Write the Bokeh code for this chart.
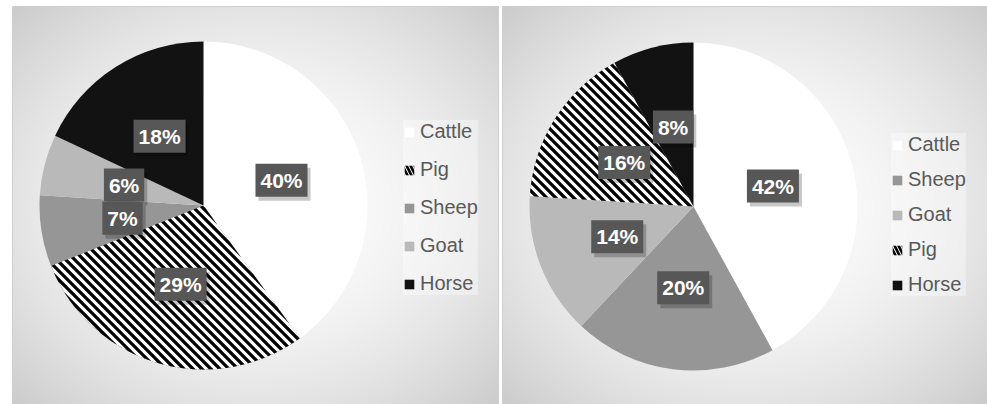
import numpy as np
from bokeh.plotting import figure
from bokeh.models import ColumnDataSource, Range1d, Legend, LegendItem
from bokeh.layouts import row
from bokeh.core.properties import value
from bokeh.embed import file_html
from bokeh.resources import INLINE

# ---- data ----
left_categories = ["Cattle", "Pig", "Sheep", "Goat", "Horse"]
left_shares = [40, 29, 7, 6, 18]
right_categories = ["Cattle", "Sheep", "Goat", "Pig", "Horse"]
right_shares = [42, 20, 14, 16, 8]

# ---- styles ----
FILL = {"Cattle": "#ffffff", "Pig": "#ffffff", "Sheep": "#969696",
        "Goat": "#b9b9b9", "Horse": "#121212"}
STRIPED = "Pig"
FONT = "Liberation Sans"
H = 404
R = 164
STRIPE_PERIOD = 9.0      # horizontal distance between stripes (px)
STRIPE_BAND = 4.6        # stripe thickness measured horizontally (px)


def gradient(w, h, cx, cy):
    yy, xx = np.mgrid[0:h, 0:w]
    dx = (xx + 0.5 - cx) / (w / 2.0)
    dy = (yy + 0.5 - cy) / (h / 2.0)
    d = np.sqrt(dx ** 2 + dy ** 2) / np.sqrt(2.0)
    v = np.clip(255 - 52 * d ** 1.8, 0, 255).astype(np.uint8)
    img = np.empty((h, w), dtype=np.uint32)
    view = img.view(dtype=np.uint8).reshape((h, w, 4))
    view[:, :, 0] = v
    view[:, :, 1] = v
    view[:, :, 2] = v
    view[:, :, 3] = 255
    return img


def clip_halfplane(poly, a, b):
    """Keep the part of polygon where a . p >= b (Sutherland-Hodgman)."""
    out = []
    n = len(poly)
    for i in range(n):
        P = poly[i]
        Q = poly[(i + 1) % n]
        fp = a[0] * P[0] + a[1] * P[1] - b
        fq = a[0] * Q[0] + a[1] * Q[1] - b
        if fp >= 0:
            out.append(P)
        if (fp >= 0) != (fq >= 0):
            t = fp / (fp - fq)
            out.append((P[0] + t * (Q[0] - P[0]), P[1] + t * (Q[1] - P[1])))
    return out


def stripe_patches(cx, cy, a_s, a_e):
    """Diagonal stripe bands clipped to the clockwise sector a_s -> a_e."""
    ang = np.linspace(a_s, a_e, 240)
    sector = [(cx, cy)] + [(cx + R * np.cos(t), cy + R * np.sin(t)) for t in ang]
    xs, ys = [], []
    base = cx + cy
    for c in np.arange(base - 1.5 * R, base + 1.5 * R, STRIPE_PERIOD):
        poly = clip_halfplane(sector, (1.0, 1.0), c - STRIPE_BAND / 2.0)
        if len(poly) < 3:
            continue
        poly = clip_halfplane(poly, (-1.0, -1.0), -(c + STRIPE_BAND / 2.0))
        if len(poly) < 3:
            continue
        xs.append([q[0] for q in poly])
        ys.append([q[1] for q in poly])
    return xs, ys


def panel(categories, shares, width, px0, px1, ptop, cx, cy, leg_x, leg_y, spacing):
    p = figure(width=width, height=H, x_range=Range1d(0, width), y_range=Range1d(0, H),
               output_backend="svg", toolbar_location=None, min_border=0,
               x_axis_location=None, y_axis_location=None,
               background_fill_color="white", border_fill_color="white",
               outline_line_color=None)
    p.grid.visible = False

    pw = px1 - px0
    ph = ptop + 2
    p.image_rgba(image=[gradient(pw, ph, (px0 + px1) / 2.0 - px0, ph / 2.0)],
                 x=px0, y=-2, dw=pw, dh=ph)
    p.quad(left=[px0], right=[px1], bottom=[-3], top=[ptop],
           fill_color=None, line_color="#cfcfcf", line_width=1)

    total = float(sum(shares))
    frac = np.array(shares) / total
    cum = np.concatenate([[0.0], np.cumsum(frac)])
    start = np.pi / 2 - 2 * np.pi * cum[:-1]
    end = np.pi / 2 - 2 * np.pi * cum[1:]
    mid = (start + end) / 2.0

    src = ColumnDataSource(dict(
        cat=categories,
        start=start, end=end,
        color=[FILL[c] for c in categories],
        lx=cx + 0.5 * R * np.cos(mid),
        ly=cy + 0.5 * R * np.sin(mid),
        lab=["%d%%" % s for s in shares],
    ))

    # striped slice (its hatch is what the legend swatch shows)
    k = categories.index(STRIPED)
    pig_src = ColumnDataSource(dict(start=[start[k]], end=[end[k]]))
    pr = p.wedge(x=cx, y=cy, radius=R, start_angle="start", end_angle="end",
                 direction="clock", fill_color="white", line_color=None,
                 hatch_pattern="left_diagonal_line", hatch_color="black",
                 hatch_scale=8, hatch_weight=2.6, source=pig_src)

    wr = p.wedge(x=cx, y=cy, radius=R, start_angle="start", end_angle="end",
                 direction="clock", fill_color="color", line_color=None, source=src)

    sxs, sys_ = stripe_patches(cx, cy, start[k], end[k])
    p.patches(xs=sxs, ys=sys_, fill_color="black", line_color=None)

    # label shadow
    p.text(x="lx", y="ly", text="lab", source=src, x_offset=3, y_offset=4,
           text_align="center", text_baseline="middle",
           text_font=value(FONT), text_font_style="bold", text_font_size="21px",
           text_alpha=0, padding=5,
           background_fill_color="#000000", background_fill_alpha=0.22)
    p.text(x="lx", y="ly", text="lab", source=src,
           text_align="center", text_baseline="middle",
           text_font=value(FONT), text_font_style="bold", text_font_size="21px",
           text_color="white", padding=5,
           background_fill_color="#575757", background_fill_alpha=1.0)

    items = []
    for i, c in enumerate(categories):
        if c == STRIPED:
            items.append(LegendItem(label=c, renderers=[pr], index=0))
        else:
            items.append(LegendItem(label=c, renderers=[wr], index=i))
    leg = Legend(items=items, location=(leg_x, leg_y), orientation="vertical",
                 label_text_font=FONT, label_text_font_size="20px",
                 label_text_color="#595959", glyph_width=12, glyph_height=12,
                 label_standoff=5, spacing=spacing, padding=6, margin=0,
                 background_fill_color="white", background_fill_alpha=0.35,
                 border_line_color=None)
    p.add_layout(leg)
    return p


p1 = panel(left_categories, left_shares, 500, 12, 498, 398, 203, 199, 403, 109, 15)
p2 = panel(right_categories, right_shares, 487, 2, 487, 398, 193, 198, 391, 108, 12)

layout = row(p1, p2)
open("out.html", "w").write(file_html(layout, INLINE))
